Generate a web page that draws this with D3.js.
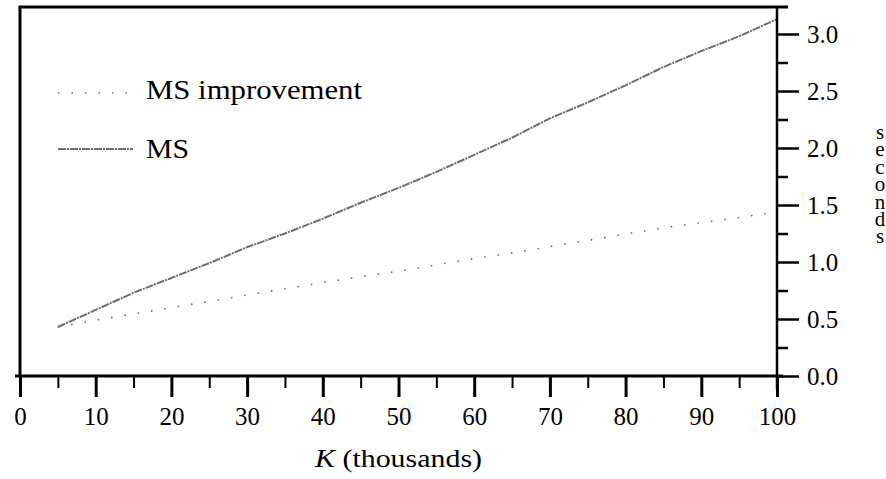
<!DOCTYPE html>
<html>
<head>
<meta charset="utf-8">
<script src="https://cdn.jsdelivr.net/npm/d3@7"></script>
<style>
  body { margin: 0; background: #fff; }
  svg { display: block; }
</style>
</head>
<body>
<svg id="chart" width="886" height="479"></svg>
<script>
'use strict';

// K in thousands
var kValues = [5, 10, 15, 20, 25, 30, 35, 40, 45, 50, 55, 60, 65, 70, 75, 80, 85, 90, 95, 100]
var msSeconds = [0.43, 0.58, 0.73, 0.86, 0.99, 1.13, 1.25, 1.38, 1.52, 1.65, 1.79, 1.94, 2.09, 2.26, 2.40, 2.55, 2.71, 2.85, 2.98, 3.13]
var improvementSeconds = [0.43, 0.49, 0.545, 0.60, 0.655, 0.71, 0.765, 0.82, 0.87, 0.92, 0.975, 1.03, 1.08, 1.135, 1.19, 1.245, 1.30, 1.345, 1.39, 1.44]

var xTicks = [0, 10, 20, 30, 40, 50, 60, 70, 80, 90, 100]
var xMinorTicks = [5, 15, 25, 35, 45, 55, 65, 75, 85, 95]
var yTicks = [0, 0.5, 1.0, 1.5, 2.0, 2.5, 3.0]
var yMinorTicks = [0.25, 0.75, 1.25, 1.75, 2.25, 2.75]

var seriesNames = ['MS improvement', 'MS']
var yTitle = 'seconds'

var FONT = '"Liberation Serif", "Times New Roman", serif'

var chart = (function() {
    var svg = d3.select('#chart')
    var left = 20, right = 777, top = 7, bottom = 376

    var x = d3.scaleLinear().domain([0, 100]).range([left, right])
    var y = d3.scaleLinear().domain([0, 3]).range([bottom, 34])

    function serif(sel, size) {
        return sel.attr('font-family', FONT)
            .style('font-family', FONT)
            .style('font-size', size + 'px')
            .attr('fill', '#000')
    }

    function drawFrame() {
        var frame = svg.append('g').attr('stroke', '#000').attr('fill', 'none')
        frame.append('line').attr('x1', left - 1.5).attr('x2', right + 11).attr('y1', top).attr('y2', top).attr('stroke-width', 3)
        frame.append('line').attr('x1', left).attr('x2', left).attr('y1', top).attr('y2', bottom).attr('stroke-width', 3)
        frame.append('line').attr('x1', left - 5).attr('x2', right + 6).attr('y1', bottom).attr('y2', bottom).attr('stroke-width', 3)
        frame.append('line').attr('x1', right).attr('x2', right).attr('y1', top).attr('y2', bottom + 13).attr('stroke-width', 2.5)
    }

    function drawAxes() {
        var xMajor = svg.append('g')
            .attr('transform', 'translate(0,' + bottom + ')')
            .call(d3.axisBottom(x).tickValues(xTicks).tickSize(21).tickPadding(10).tickFormat(d3.format('d')))
        var xMinor = svg.append('g')
            .attr('transform', 'translate(0,' + bottom + ')')
            .call(d3.axisBottom(x).tickValues(xMinorTicks).tickSize(12).tickFormat(''))
        var yMajor = svg.append('g')
            .attr('transform', 'translate(' + right + ',0)')
            .call(d3.axisRight(y).tickValues(yTicks).tickSize(22).tickPadding(8).tickFormat(d3.format('.1f')))
        var yMinor = svg.append('g')
            .attr('transform', 'translate(' + right + ',0)')
            .call(d3.axisRight(y).tickValues(yMinorTicks).tickSize(11).tickFormat(''))

        svg.selectAll('.domain').remove()
        xMajor.selectAll('line').attr('stroke', '#000').attr('stroke-width', 3)
        xMinor.selectAll('line').attr('stroke', '#000').attr('stroke-width', 2)
        yMajor.selectAll('line').attr('stroke', '#000').attr('stroke-width', 2.5)
        yMinor.selectAll('line').attr('stroke', '#000').attr('stroke-width', 2.5)
        serif(svg.selectAll('.tick text'), 25)
    }

    function drawTitles() {
        var xTitle = serif(svg.append('text'), 25)
            .attr('x', (left + right) / 2)
            .attr('y', 467)
            .attr('text-anchor', 'middle')
            .attr('textLength', 167)
            .attr('lengthAdjust', 'spacingAndGlyphs')
        xTitle.append('tspan').style('font-style', 'italic').text('K')
        xTitle.append('tspan').text(' (thousands)')

        // vertical title, one letter per row
        serif(svg.append('text'), 21)
            .attr('text-anchor', 'middle')
            .selectAll('tspan')
            .data(yTitle.split(''))
            .enter().append('tspan')
            .attr('x', 880)
            .attr('y', function(d, i) { return 139 + i * 17.4 })
            .text(function(d) { return d })
    }

    function drawSeries() {
        var line = d3.line()
            .x(function(d) { return x(d[0]) })
            .y(function(d) { return y(d[1]) })

        svg.append('path')
            .datum(d3.zip(kValues, improvementSeconds))
            .attr('d', line)
            .attr('fill', 'none')
            .attr('stroke', '#666')
            .attr('stroke-width', 1.6)
            .attr('stroke-dasharray', '1.5,12')

        svg.append('path')
            .datum(d3.zip(kValues, msSeconds))
            .attr('d', line)
            .attr('fill', 'none')
            .attr('stroke', '#6e6e6e')
            .attr('stroke-width', 2)
            .attr('stroke-dasharray', '8,1,2,1')
    }

    function drawLegend() {
        var legend = svg.append('g')
        var rows = [
            { name: seriesNames[0], lineY: 93, textY: 99, x2: 128, dash: '1.5,12', width: 1.6, textLength: 216 },
            { name: seriesNames[1], lineY: 149, textY: 158, x2: 133, dash: '8,1,2,1', width: 2, textLength: 43 }
        ]
        rows.forEach(function(r) {
            legend.append('line')
                .attr('x1', 58).attr('x2', r.x2)
                .attr('y1', r.lineY).attr('y2', r.lineY)
                .attr('stroke', '#6e6e6e')
                .attr('stroke-width', r.width)
                .attr('stroke-dasharray', r.dash)
            serif(legend.append('text'), 27)
                .attr('x', 146)
                .attr('y', r.textY)
                .attr('textLength', r.textLength)
                .attr('lengthAdjust', 'spacingAndGlyphs')
                .text(r.name)
        })
    }

    function render() {
        drawSeries()
        drawFrame()
        drawAxes()
        drawTitles()
        drawLegend()
    }

    return { render: render }
}())

chart.render()
</script>
</body>
</html>
